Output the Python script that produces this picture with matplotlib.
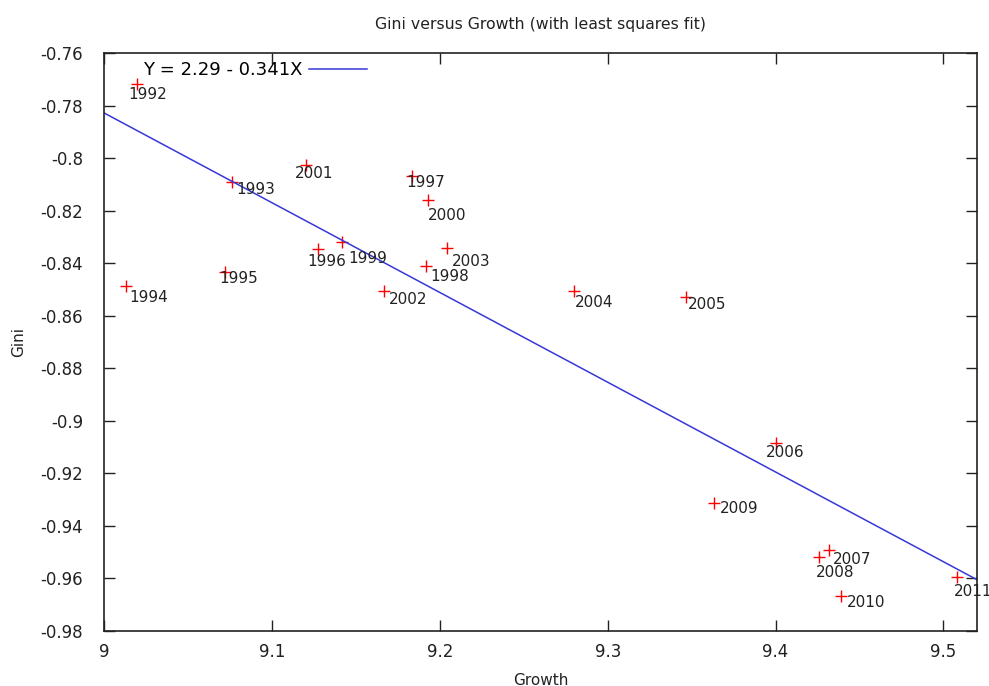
import numpy as np
import matplotlib.pyplot as plt

# Growth (x) and Gini (y) by year
years = ['1992', '1993', '1994', '1995', '1996', '1997', '1998', '1999', '2000', '2001',
         '2002', '2003', '2004', '2005', '2006', '2007', '2008', '2009', '2010', '2011']
growth = [9.0197, 9.0764, 9.0131, 9.0722, 9.1277, 9.1832, 9.1915, 9.1420, 9.1927, 9.1205,
          9.1665, 9.2040, 9.2798, 9.3467, 9.4004, 9.4320, 9.4260, 9.3634, 9.4390, 9.5078]
gini = [-0.7718, -0.8090, -0.8486, -0.8433, -0.8345, -0.8068, -0.8410, -0.8319, -0.8159, -0.8026,
        -0.8505, -0.8341, -0.8505, -0.8528, -0.9083, -0.9490, -0.9520, -0.9311, -0.9668, -0.9596]

# label offsets (pixels, right / down) so the years sit like the original
offsets = {'1992': (-9, 10), '1993': (4, 8), '1994': (3, 12), '1995': (-6, 7),
           '1996': (-11, 13), '1997': (-5, 7), '1998': (5, 11), '1999': (6, 17),
           '2000': (0, 16), '2001': (-11, 9), '2002': (5, 9), '2003': (5, 14),
           '2004': (1, 12), '2005': (2, 8), '2006': (-10, 10), '2007': (4, 10),
           '2008': (-3, 15), '2009': (6, 6), '2010': (6, 6), '2011': (-3, 14)}

plt.rcParams['font.family'] = 'DejaVu Sans'
fig = plt.figure(figsize=(9.89, 6.86), dpi=100)
ax = fig.add_axes([0.1052, 0.0802, 0.8827, 0.8425])

ax.plot(growth, gini, linestyle='none', marker='+', color='#ff0000', ms=9, mew=1)

for yr, x, y in zip(years, growth, gini):
    dx, dy = offsets[yr]
    ax.annotate(yr, (x, y), xytext=(dx * 0.72, -dy * 0.72), textcoords='offset points',
                ha='left', va='center', fontsize=11, color='#222222', clip_on=False)

# least squares fit, as labelled in the legend
a, b = 2.2925, -0.3417
xs = np.array([9.0, 9.52])
ax.plot(xs, a + b * xs, color='#3838d8', lw=1.1, label='Y = 2.29 - 0.341X')

ax.set_xlim(9.0, 9.52)
ax.set_ylim(-0.98, -0.76)
ax.set_xticks([9.0, 9.1, 9.2, 9.3, 9.4, 9.5])
ax.set_xticklabels(['9', '9.1', '9.2', '9.3', '9.4', '9.5'])
ax.set_yticks(np.arange(-0.98, -0.759, 0.02))
ax.set_yticklabels(['%g' % v for v in np.round(np.arange(-0.98, -0.759, 0.02), 2)])
ax.tick_params(direction='in', length=8, width=1, top=True, right=True,
               labelsize=12, colors='#222222')
ax.tick_params(axis='y', pad=15)
ax.tick_params(axis='x', pad=9)
for s in ax.spines.values():
    s.set_linewidth(1.2)
    s.set_color('#222222')

ax.set_xlabel('Growth', fontsize=11, color='#222222', labelpad=8)
ax.set_ylabel('Gini', fontsize=11, color='#222222', labelpad=10)
ax.set_title('Gini versus Growth (with least squares fit)', fontsize=11.3, color='#222222', pad=17)

ax.legend(loc='upper left', frameon=False, markerfirst=False, fontsize=13,
          handlelength=3.2, handletextpad=0.4, bbox_to_anchor=(0.036, 0.998), borderaxespad=0)

fig.savefig('out.png', dpi=100)
